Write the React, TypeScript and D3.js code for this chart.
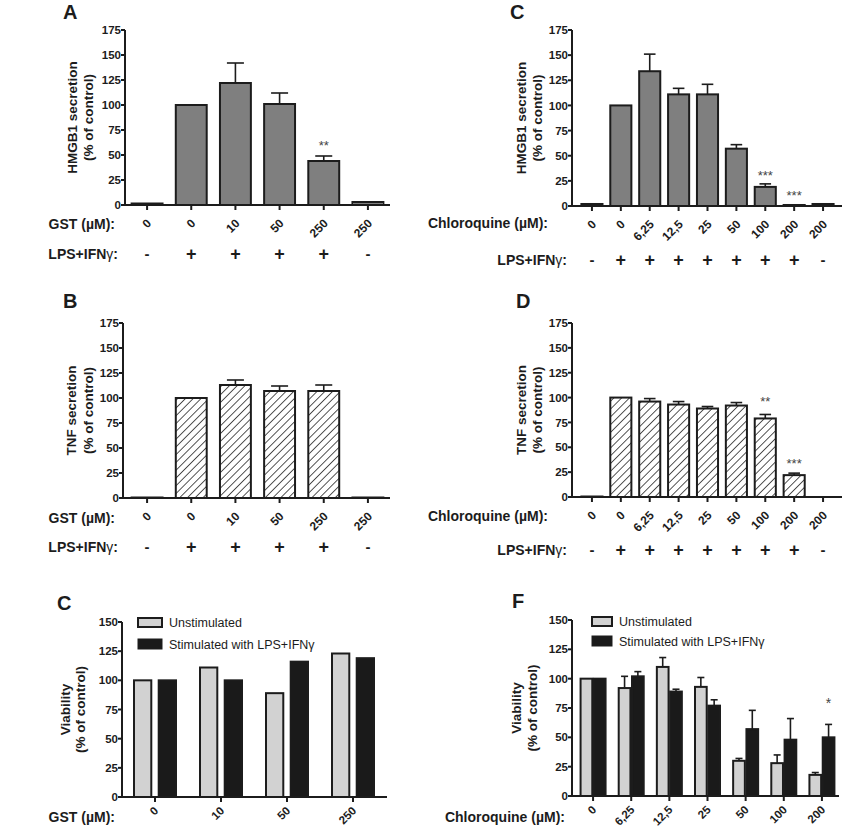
import React from 'react';
import * as d3 from 'd3';

// ---------------- data ----------------
const gstDoses = ['0', '0', '10', '50', '250', '250'];
const gstLps = ['-', '+', '+', '+', '+', '-'];
const hmgbGstMean = [1.5, 100, 122, 101, 44, 3];
const hmgbGstErr = [0, 0, 20, 11, 5, 0];
const hmgbGstSig = [{ i: 4, text: '**', at: 63 }];

const tnfGstMean = [0.5, 100, 113, 107, 107, 0.5];
const tnfGstErr = [0, 0, 5, 5, 6, 0];
const tnfGstSig: { i: number; text: string; at: number }[] = [];

const cqDoses = ['0', '0', '6,25', '12,5', '25', '50', '100', '200', '200'];
const cqLps = ['-', '+', '+', '+', '+', '+', '+', '+', '-'];
const hmgbCqMean = [2, 100, 134, 111, 111, 57, 19, 1, 2];
const hmgbCqErr = [0, 0, 17, 6, 10, 4, 3, 0, 0];
const hmgbCqSig = [
  { i: 6, text: '***', at: 34 },
  { i: 7, text: '***', at: 14 },
];

const tnfCqMean = [0.5, 100, 96, 93, 89, 92, 79, 22, 0];
const tnfCqErr = [0, 0, 3, 3, 2, 3, 4, 2, 0];
const tnfCqSig = [
  { i: 6, text: '**', at: 99 },
  { i: 7, text: '***', at: 37 },
];

const vGstDoses = ['0', '10', '50', '250'];
const vGstUnstim = [100, 111, 89, 123];
const vGstStim = [100, 100, 116, 119];

const vCqDoses = ['0', '6,25', '12,5', '25', '50', '100', '200'];
const vCqUnstim = [100, 92, 110, 93, 30, 28, 18];
const vCqUnstimErr = [0, 10, 8, 8, 2, 7, 2];
const vCqStim = [100, 102, 89, 77, 57, 48, 50];
const vCqStimErr = [0, 4, 2, 5, 16, 18, 11];
const vCqSig = [{ i: 6, text: '*', at: 82 }];

const secretionTicks = [0, 25, 50, 75, 100, 125, 150, 175];
const viabilityTicks = [0, 25, 50, 75, 100, 125, 150];
const legendLabels = ['Unstimulated', 'Stimulated with LPS+IFN'];

// ---------------- style ----------------
const FONT = '"Liberation Sans", Arial, Helvetica, sans-serif';
const INK = '#1c1c1c';
const MID = '#7f7f7f';
const LIGHT = '#d2d2d2';
const DARK = '#1a1a1a';

function YAxis({ x, y, ticks }: any) {
  const [r0, r1] = y.range();
  return (
    <g>
      <line x1={x} x2={x} y1={r0 + 1} y2={r1} stroke={INK} strokeWidth={2} />
      {ticks.map((t: number) => (
        <g key={t}>
          <line x1={x - 4} x2={x} y1={y(t)} y2={y(t)} stroke={INK} strokeWidth={2} />
          <text x={x - 4} y={y(t)} dy="0.36em" textAnchor="end" fontSize={11.5} fontWeight="bold" fill={INK}>
            {t}
          </text>
        </g>
      ))}
    </g>
  );
}

function YTitle({ x1, x2, cy, lines }: any) {
  return (
    <g fontSize={13.5} fontWeight="bold" fill={INK}>
      <text transform={`translate(${x1},${cy}) rotate(-90)`} textAnchor="middle" dy="0.36em">
        {lines[0]}
      </text>
      <text transform={`translate(${x2},${cy}) rotate(-90)`} textAnchor="middle" dy="0.36em">
        {lines[1]}
      </text>
    </g>
  );
}

function RotLabels({ centers, labels, y0, dx, dy, size }: any) {
  return (
    <g fontSize={size} fontWeight="bold" fill={INK}>
      {labels.map((l: string, i: number) => (
        <text key={i} transform={`translate(${centers[i] + dx},${y0 + dy}) rotate(-45)`} textAnchor="end">
          {l}
        </text>
      ))}
    </g>
  );
}

function LpsRow({ centers, signs, right, y }: any) {
  return (
    <g fontWeight="bold" fill={INK}>
      <text x={right} y={y} dy="0.36em" textAnchor="end" fontSize={14}>
        LPS+IFN<tspan fontWeight="normal">γ</tspan>:
      </text>
      {signs.map((s: string, i: number) => (
        <text key={i} x={centers[i]} y={y} dy="0.36em" textAnchor="middle" fontSize={s === '+' ? 18 : 15}>
          {s}
        </text>
      ))}
    </g>
  );
}

function SecretionPanel({ cfg, doses, lps, mean, err, sig, hatch, yTitle, xName }: any) {
  const idx = d3.range(doses.length);
  const x = d3
    .scaleBand<number>()
    .domain(idx)
    .range(cfg.band)
    .paddingInner(cfg.pad)
    .paddingOuter(cfg.pad / 2);
  const y = d3.scaleLinear().domain([0, 175]).range([cfg.y0, cfg.yTop]);
  const bw = x.bandwidth();
  const centers = idx.map((i) => (x(i) as number) + bw / 2);
  const cap = bw * 0.55;
  return (
    <g>
      <text x={cfg.letter[0]} y={cfg.letter[1]} fontSize={20} fontWeight="bold" fill={INK}>
        {cfg.letterText}
      </text>
      <YTitle x1={cfg.axisX - cfg.t1} x2={cfg.axisX - cfg.t2} cy={(cfg.y0 + cfg.yTop) / 2} lines={yTitle} />
      {idx.map((i) => (
        <rect
          key={i}
          x={x(i)}
          y={y(mean[i])}
          width={bw}
          height={cfg.y0 - y(mean[i])}
          fill={hatch ? 'url(#hatch)' : MID}
          stroke={INK}
          strokeWidth={2}
        />
      ))}
      {idx
        .filter((i) => err[i] > 0)
        .map((i) => (
          <g key={i} stroke={INK} strokeWidth={1.6}>
            <line x1={centers[i]} x2={centers[i]} y1={y(mean[i])} y2={y(mean[i] + err[i])} />
            <line x1={centers[i] - cap / 2} x2={centers[i] + cap / 2} y1={y(mean[i] + err[i])} y2={y(mean[i] + err[i])} />
          </g>
        ))}
      {sig.map((s: any, k: number) => (
        <text key={k} x={centers[s.i]} y={y(s.at)} dy="0.6em" textAnchor="middle" fontSize={13} fill="#444">
          {s.text}
        </text>
      ))}
      <line x1={cfg.axisX} x2={cfg.axisEnd} y1={cfg.y0} y2={cfg.y0} stroke={INK} strokeWidth={2} />
      {centers.map((c, i) => (
        <line key={i} x1={c} x2={c} y1={cfg.y0} y2={cfg.y0 + 5} stroke={INK} strokeWidth={2} />
      ))}
      <YAxis x={cfg.axisX} y={y} ticks={secretionTicks} />
      <text x={cfg.xNameRight} y={cfg.xNameY} dy="0.36em" textAnchor="end" fontSize={14} fontWeight="bold" fill={INK}>
        {xName}
      </text>
      <RotLabels centers={centers} labels={doses} y0={cfg.y0} dx={5} dy={19} size={12} />
      <LpsRow centers={centers} signs={lps} right={cfg.lpsRight} y={cfg.lpsY} />
    </g>
  );
}

function ViabilityPanel({ cfg, doses, unstim, stim, unstimErr, stimErr, sig, xName }: any) {
  const idx = d3.range(doses.length);
  const x = d3.scaleBand<number>().domain(idx).range(cfg.band).padding(0);
  const sub = d3
    .scaleBand<string>()
    .domain(['u', 's'])
    .range([-cfg.groupW / 2, cfg.groupW / 2])
    .paddingInner(cfg.subPad);
  const y = d3.scaleLinear().domain([0, 150]).range([cfg.y0, cfg.yTop]);
  const centers = idx.map((i) => (x(i) as number) + x.bandwidth() / 2);
  const bw = sub.bandwidth();
  const cap = bw * 0.6;
  const series = [
    { key: 'u', vals: unstim, errs: unstimErr, fill: LIGHT },
    { key: 's', vals: stim, errs: stimErr, fill: DARK },
  ];
  return (
    <g>
      <text x={cfg.letter[0]} y={cfg.letter[1]} fontSize={20} fontWeight="bold" fill={INK}>
        {cfg.letterText}
      </text>
      <YTitle x1={cfg.axisX - cfg.t1} x2={cfg.axisX - cfg.t2} cy={(cfg.y0 + cfg.yTop) / 2} lines={['Viability', '(% of control)']} />
      {series.map((s) =>
        idx.map((i) => {
          const bx = centers[i] + (sub(s.key) as number);
          const cx = bx + bw / 2;
          const e = s.errs ? s.errs[i] : 0;
          return (
            <g key={s.key + i}>
              <rect x={bx} y={y(s.vals[i])} width={bw} height={cfg.y0 - y(s.vals[i])} fill={s.fill} stroke={INK} strokeWidth={2} />
              {e > 0 && (
                <g stroke={INK} strokeWidth={1.6}>
                  <line x1={cx} x2={cx} y1={y(s.vals[i])} y2={y(s.vals[i] + e)} />
                  <line x1={cx - cap / 2} x2={cx + cap / 2} y1={y(s.vals[i] + e)} y2={y(s.vals[i] + e)} />
                </g>
              )}
            </g>
          );
        })
      )}
      {sig.map((s: any, k: number) => (
        <text key={k} x={centers[s.i] + (sub('s') as number) + bw / 2} y={y(s.at)} dy="0.6em" textAnchor="middle" fontSize={14} fill="#444">
          {s.text}
        </text>
      ))}
      <line x1={cfg.axisX} x2={cfg.axisEnd} y1={cfg.y0} y2={cfg.y0} stroke={INK} strokeWidth={2} />
      {centers.map((c, i) => (
        <line key={i} x1={c} x2={c} y1={cfg.y0} y2={cfg.y0 + 5} stroke={INK} strokeWidth={2} />
      ))}
      <YAxis x={cfg.axisX} y={y} ticks={viabilityTicks} />
      <text x={cfg.xNameRight} y={cfg.xNameY} dy="0.36em" textAnchor="end" fontSize={14} fontWeight="bold" fill={INK}>
        {xName}
      </text>
      <RotLabels centers={centers} labels={doses} y0={cfg.y0} dx={4} dy={14.5} size={11.5} />
      {/* legend */}
      <g>
        <rect x={cfg.leg[0]} y={cfg.leg[1]} width={cfg.legW} height={9} fill={LIGHT} stroke={INK} strokeWidth={2} />
        <rect x={cfg.leg[0]} y={cfg.leg[2]} width={cfg.legW} height={10} fill={DARK} stroke={INK} strokeWidth={1} />
        <text x={cfg.leg[0] + cfg.legW + 7} y={cfg.leg[1] + 4.5} dy="0.36em" fontSize={12.5} fill={INK}>
          {legendLabels[0]}
        </text>
        <text x={cfg.leg[0] + cfg.legW + 7} y={cfg.leg[2] + 5} dy="0.36em" fontSize={12.5} fill={INK}>
          {legendLabels[1]}
          <tspan>γ</tspan>
        </text>
      </g>
    </g>
  );
}

const cfgA = {
  letterText: 'A', letter: [63, 19], axisX: 125, axisEnd: 390, band: [125, 390], pad: 0.3,
  y0: 205, yTop: 30, t1: 53, t2: 37, xNameRight: 115, xNameY: 224, lpsRight: 118, lpsY: 254,
};
const cfgB = {
  letterText: 'B', letter: [63, 308], axisX: 123, axisEnd: 390, band: [125, 390], pad: 0.3,
  y0: 498, yTop: 323, t1: 52, t2: 35, xNameRight: 115, xNameY: 518, lpsRight: 118, lpsY: 547,
};
const cfgC = {
  letterText: 'C', letter: [510, 19], axisX: 572, axisEnd: 842, band: [577.5, 837.5], pad: 0.27,
  y0: 206, yTop: 30, t1: 51, t2: 35, xNameRight: 548, xNameY: 223, lpsRight: 567, lpsY: 260,
};
const cfgD = {
  letterText: 'D', letter: [516, 308], axisX: 572, axisEnd: 842, band: [577.5, 837.5], pad: 0.27,
  y0: 497, yTop: 323, t1: 51, t2: 35, xNameRight: 548, xNameY: 516, lpsRight: 567, lpsY: 550,
};
const cfgE = {
  letterText: 'C', letter: [57, 610], axisX: 122, axisEnd: 387, band: [122, 386], groupW: 42, subPad: 0.3,
  y0: 797, yTop: 622, t1: 57, t2: 42, xNameRight: 115, xNameY: 817, leg: [138, 618, 639], legW: 24,
};
const cfgF = {
  letterText: 'F', letter: [512, 608], axisX: 572, axisEnd: 839, band: [574, 841], groupW: 25, subPad: 0.12,
  y0: 796, yTop: 620, t1: 56, t2: 40, xNameRight: 565, xNameY: 817, leg: [592, 617, 636], legW: 20,
};

export default function App() {
  return (
    <svg
      width={842}
      height={832}
      viewBox="0 0 842 832"
      style={{ position: 'absolute', left: 0, top: 0, background: '#fff' }}
      fontFamily={FONT}
    >
      <defs>
        <pattern id="hatch" patternUnits="userSpaceOnUse" width={5.5} height={5.5} patternTransform="rotate(45)">
          <rect width={5.5} height={5.5} fill="#fff" />
          <line x1={0} y1={0} x2={0} y2={5.5} stroke={INK} strokeWidth={1.5} />
        </pattern>
      </defs>
      <rect width={842} height={832} fill="#fff" />
      <SecretionPanel cfg={cfgA} doses={gstDoses} lps={gstLps} mean={hmgbGstMean} err={hmgbGstErr} sig={hmgbGstSig}
        hatch={false} yTitle={['HMGB1 secretion', '(% of control)']} xName="GST (µM):" />
      <SecretionPanel cfg={cfgB} doses={gstDoses} lps={gstLps} mean={tnfGstMean} err={tnfGstErr} sig={tnfGstSig}
        hatch={true} yTitle={['TNF secretion', '(% of control)']} xName="GST (µM):" />
      <SecretionPanel cfg={cfgC} doses={cqDoses} lps={cqLps} mean={hmgbCqMean} err={hmgbCqErr} sig={hmgbCqSig}
        hatch={false} yTitle={['HMGB1 secretion', '(% of control)']} xName="Chloroquine (µM):" />
      <SecretionPanel cfg={cfgD} doses={cqDoses} lps={cqLps} mean={tnfCqMean} err={tnfCqErr} sig={tnfCqSig}
        hatch={true} yTitle={['TNF secretion', '(% of control)']} xName="Chloroquine (µM):" />
      <ViabilityPanel cfg={cfgE} doses={vGstDoses} unstim={vGstUnstim} stim={vGstStim} unstimErr={null} stimErr={null}
        sig={[]} xName="GST (µM):" />
      <ViabilityPanel cfg={cfgF} doses={vCqDoses} unstim={vCqUnstim} stim={vCqStim} unstimErr={vCqUnstimErr}
        stimErr={vCqStimErr} sig={vCqSig} xName="Chloroquine (µM):" />
    </svg>
  );
}
